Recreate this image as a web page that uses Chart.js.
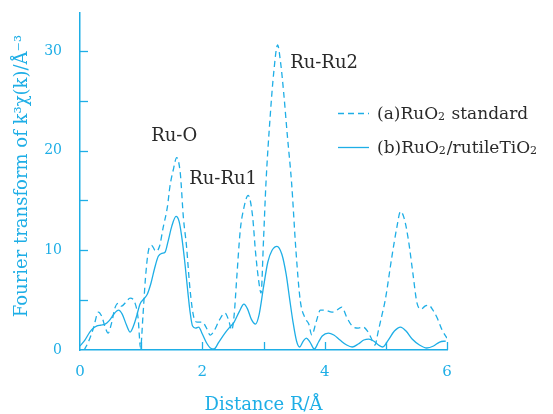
<!DOCTYPE html>
<html>
<head>
<meta charset="utf-8">
<script src="https://cdn.jsdelivr.net/npm/chart.js@4.4.1/dist/chart.umd.min.js"></script>
<style>
    html, body { margin: 0; padding: 0; background: #fff; }
</style>
</head>
<body>
<canvas id="ftChart" width="553" height="414"></canvas>
<script>
// Data: R in Å, FT magnitude
const distanceA = [0.07, 0.15, 0.22, 0.30, 0.36, 0.41, 0.46, 0.52, 0.57, 0.63, 0.68, 0.75, 0.82, 0.90, 0.95, 0.99,
    1.03, 1.07, 1.12, 1.17, 1.24, 1.30, 1.36, 1.43, 1.47, 1.53, 1.58, 1.64, 1.69, 1.74, 1.80, 1.86, 1.92, 2.00,
    2.06, 2.13, 2.20, 2.27, 2.37, 2.43, 2.48, 2.52, 2.56, 2.62, 2.67, 2.75, 2.82, 2.87, 2.92, 2.96, 3.00, 3.04,
    3.11, 3.17, 3.23, 3.28, 3.33, 3.39, 3.46, 3.53, 3.60, 3.68, 3.74, 3.79, 3.86, 3.93, 4.00, 4.12, 4.20, 4.28,
    4.36, 4.45, 4.55, 4.63, 4.70, 4.76, 4.82, 4.88, 4.94, 4.99, 5.10, 5.18, 5.24, 5.30, 5.37, 5.44, 5.51, 5.58,
    5.64, 5.70, 5.77, 5.84, 5.92, 6.00];
const standardA = [0.0, 1.0, 2.2, 3.8, 3.3, 2.3, 1.7, 2.8, 4.2, 4.7, 4.4, 4.8, 5.2, 4.7, 3.2, 0.2,
    3.5, 7.2, 10.0, 10.5, 9.9, 10.4, 12.3, 14.4, 16.4, 18.2, 19.3, 17.7, 13.3, 10.5, 6.0, 3.3, 2.8, 2.8,
    2.3, 1.5, 2.0, 2.9, 3.7, 3.0, 2.0, 3.5, 7.0, 12.0, 14.0, 15.5, 13.5, 9.8, 7.0, 5.7, 11.0, 16.7,
    23.5, 28.0, 30.6, 28.8, 25.8, 21.5, 16.7, 10.0, 5.0, 3.2, 2.6, 1.5, 2.8, 4.0, 4.0, 3.8, 4.0, 4.3,
    3.3, 2.4, 2.2, 2.3, 1.9, 1.2, 0.5, 2.0, 3.6, 5.0, 9.4, 12.3, 13.9, 13.2, 11.0, 7.8, 4.7, 4.1,
    4.4, 4.5, 4.0, 3.2, 2.0, 1.2];

const distanceB = [0.00, 0.08, 0.16, 0.22, 0.27, 0.34, 0.41, 0.47, 0.52, 0.58, 0.63, 0.69, 0.76, 0.82, 0.88, 0.93,
    0.98, 1.04, 1.10, 1.16, 1.22, 1.28, 1.34, 1.39, 1.44, 1.50, 1.57, 1.62, 1.66, 1.71, 1.76, 1.80, 1.84, 1.89,
    1.94, 2.00, 2.07, 2.13, 2.19, 2.27, 2.37, 2.45, 2.52, 2.60, 2.68, 2.74, 2.80, 2.87, 2.93, 3.00, 3.07, 3.14,
    3.22, 3.30, 3.37, 3.43, 3.48, 3.54, 3.59, 3.65, 3.70, 3.76, 3.83, 3.90, 3.96, 4.06, 4.15, 4.25, 4.36, 4.45,
    4.55, 4.64, 4.72, 4.80, 4.88, 4.95, 5.04, 5.14, 5.24, 5.33, 5.43, 5.55, 5.67, 5.78, 5.88, 5.98];
const compositeB = [0.4, 1.0, 1.8, 2.2, 2.4, 2.5, 2.6, 2.9, 3.3, 3.8, 4.0, 3.6, 2.5, 1.8, 2.5, 3.5,
    4.6, 5.1, 5.6, 6.7, 8.2, 9.4, 9.7, 9.8, 10.9, 12.4, 13.4, 12.9, 11.5, 9.0, 6.0, 3.8, 2.4, 2.2,
    2.3, 1.6, 0.7, 0.2, 0.1, 0.8, 1.7, 2.3, 2.8, 3.8, 4.6, 4.1, 3.1, 2.6, 3.6, 6.3, 8.8, 10.0,
    10.4, 9.6, 7.6, 5.0, 2.9, 0.9, 0.3, 0.9, 1.2, 0.8, 0.1, 0.8, 1.4, 1.7, 1.5, 1.0, 0.5, 0.3,
    0.6, 1.0, 1.1, 0.9, 0.5, 0.3, 1.0, 1.9, 2.3, 1.9, 1.1, 0.5, 0.2, 0.4, 0.8, 0.9];

const seriesLabels = ['(a)RuO₂ standard', '(b)RuO₂/rutileTiO₂'];
const xTickValues = [0, 2, 4, 6];
const yTickValues = [0, 10, 20, 30];
const peakNames = ['Ru-O', 'Ru-Ru1', 'Ru-Ru2'];
const yTitle = 'Fourier transform of k³χ(k)/Å⁻³';

const BLUE = '#1eaee6';
const INK = '#2a2a2a';
const SERIF = '"DejaVu Serif", serif';

// where the peak names sit, in data units (R, value)
const peakAnchors = [
    { r: 1.54, v: 21.4 },
    { r: 2.34, v: 17.1 },
    { r: 3.99, v: 28.8 },
];

// draws a label with the "₂" turned into a small digit on the baseline
const drawRichText = (ctx, text, x, y, size) => {
    const parts = text.split('₂');
    let cx = x;
    parts.forEach((part, i) => {
        ctx.font = size + 'px ' + SERIF;
        ctx.fillText(part, cx, y);
        cx += ctx.measureText(part).width;
        if (i < parts.length - 1) {
            ctx.font = Math.round(size * 0.62) + 'px ' + SERIF;
            ctx.fillText('2', cx, y + 1);
            cx += ctx.measureText('2').width + 1;
        }
    });
};

const decorPlugin = {
    id: 'decor',
    afterDraw(chart) {
        const { ctx } = chart;
        const xs = chart.scales.x;
        const ys = chart.scales.y;
        ctx.save();

        // inward tick marks
        ctx.strokeStyle = BLUE;
        ctx.lineWidth = 1.3;
        for (let v = 5; v <= 30; v += 5) {
            const py = Math.round(ys.getPixelForValue(v)) + 0.5;
            ctx.beginPath();
            ctx.moveTo(xs.left, py);
            ctx.lineTo(xs.left + 8, py);
            ctx.stroke();
        }
        for (let r = 1; r <= 6; r++) {
            const px = Math.round(xs.getPixelForValue(r)) + 0.5;
            ctx.beginPath();
            ctx.moveTo(px, ys.bottom);
            ctx.lineTo(px, ys.bottom - 8);
            ctx.stroke();
        }

        // y axis title, a little above the middle like the original
        ctx.save();
        ctx.translate(22, 176);
        ctx.rotate(-Math.PI / 2);
        ctx.fillStyle = BLUE;
        ctx.font = '18px ' + SERIF;
        ctx.textAlign = 'center';
        ctx.textBaseline = 'middle';
        ctx.fillText(yTitle, 0, 0);
        ctx.restore();

        // peak names
        ctx.fillStyle = INK;
        ctx.font = '18px ' + SERIF;
        ctx.textAlign = 'center';
        ctx.textBaseline = 'middle';
        peakNames.forEach((name, i) => {
            ctx.fillText(name, xs.getPixelForValue(peakAnchors[i].r), ys.getPixelForValue(peakAnchors[i].v));
        });

        // legend
        ctx.textAlign = 'left';
        ctx.textBaseline = 'alphabetic';
        chart.data.datasets.forEach((ds, i) => {
            const rowY = 113 + i * 34;
            ctx.strokeStyle = ds.borderColor;
            ctx.lineWidth = ds.borderWidth;
            ctx.setLineDash(ds.borderDash || []);
            ctx.beginPath();
            ctx.moveTo(338, rowY + 0.5);
            ctx.lineTo(369, rowY + 0.5);
            ctx.stroke();
            ctx.setLineDash([]);
            ctx.fillStyle = INK;
            drawRichText(ctx, ds.label, 377, rowY + 6, 17);
        });

        ctx.restore();
    }
};

const ctx = document.getElementById('ftChart').getContext('2d');
const ftChart = new Chart(ctx, {
    type: 'line',
    data: {
        datasets: [
            {
                label: seriesLabels[0],
                data: distanceA.map((r, i) => ({ x: r, y: standardA[i] })),
                borderColor: BLUE,
                borderWidth: 1.3,
                borderDash: [6, 4],
                pointRadius: 0,
                cubicInterpolationMode: 'monotone',
                fill: false,
            },
            {
                label: seriesLabels[1],
                data: distanceB.map((r, i) => ({ x: r, y: compositeB[i] })),
                borderColor: BLUE,
                borderWidth: 1.3,
                pointRadius: 0,
                cubicInterpolationMode: 'monotone',
                fill: false,
            },
        ],
    },
    options: {
        responsive: false,
        animation: false,
        layout: {
            padding: { left: 0, right: 106, top: 13, bottom: 0 },
        },
        plugins: {
            legend: { display: false },
            tooltip: { enabled: false },
        },
        scales: {
            x: {
                type: 'linear',
                min: 0,
                max: 6,
                afterFit: (scale) => { scale.height = 64; },
                afterBuildTicks: (scale) => { scale.ticks = xTickValues.map(v => ({ value: v })); },
                grid: { display: false },
                border: { display: true, color: BLUE, width: 1.5 },
                ticks: {
                    color: BLUE,
                    padding: 5,
                    maxRotation: 0,
                    font: { family: SERIF, size: 15 },
                },
                title: {
                    display: true,
                    text: 'Distance R/Å',
                    color: BLUE,
                    padding: { top: 0, bottom: -2 },
                    font: { family: SERIF, size: 18 },
                },
            },
            y: {
                type: 'linear',
                min: 0,
                max: 33.8,
                afterFit: (scale) => {
                    scale.width = 80;
                    scale.paddingTop = 0;
                    scale.paddingBottom = 0;
                },
                afterBuildTicks: (scale) => { scale.ticks = yTickValues.map(v => ({ value: v })); },
                grid: { display: false },
                border: { display: true, color: BLUE, width: 1.5 },
                ticks: {
                    color: BLUE,
                    padding: 10,
                    font: { family: SERIF, size: 14 },
                },
            },
        },
    },
    plugins: [decorPlugin],
});
</script>
</body>
</html>
